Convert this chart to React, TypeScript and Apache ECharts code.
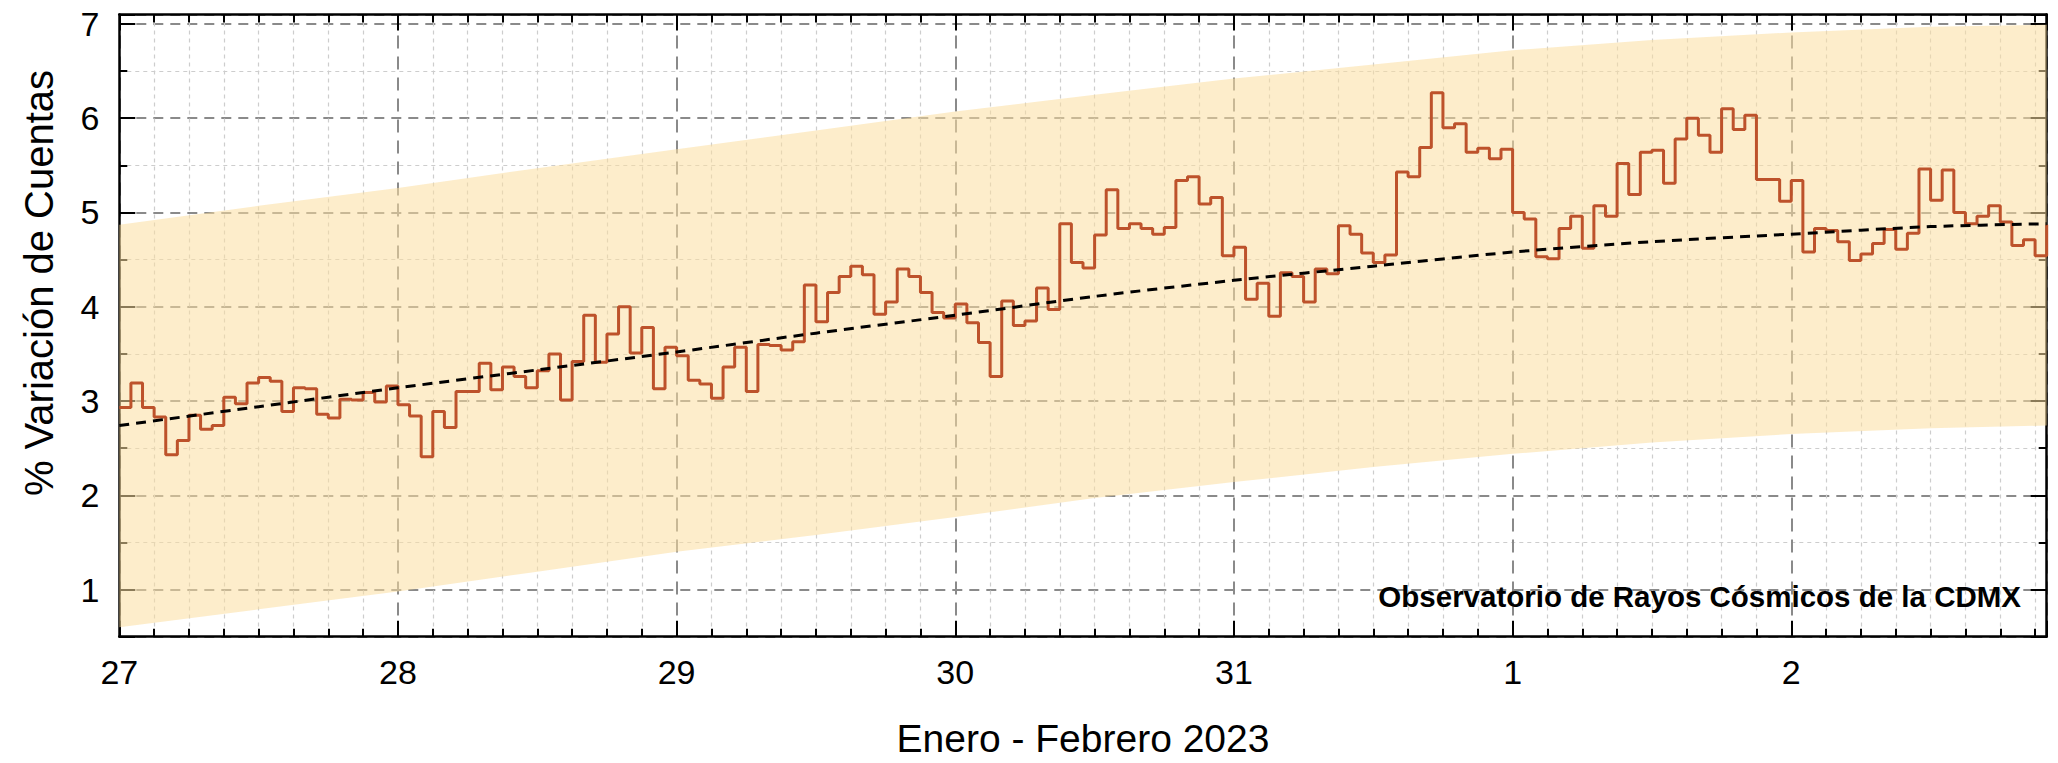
import React, { useEffect, useRef } from 'react';
import * as echarts from 'echarts';

// Tick labels for the day axis (one per day, starting 27 Jan 2023 00:00)
const dayLabels = ['27', '28', '29', '30', '31', '1', '2'];

// Hourly % variation of counts (one value per hour)
const jan27 = [2.93, 3.19, 2.93, 2.83, 2.43, 2.58, 2.85, 2.70, 2.74, 3.04, 2.97, 3.19, 3.25, 3.21, 2.89, 3.14, 3.13, 2.86, 2.82, 3.02, 3.01, 3.09, 2.99, 3.16];
const jan28 = [2.96, 2.84, 2.41, 2.89, 2.72, 3.10, 3.10, 3.40, 3.12, 3.36, 3.26, 3.14, 3.32, 3.50, 3.01, 3.42, 3.91, 3.41, 3.71, 4.00, 3.51, 3.78, 3.13, 3.57];
const jan29 = [3.48, 3.22, 3.18, 3.03, 3.36, 3.57, 3.10, 3.60, 3.59, 3.54, 3.63, 4.23, 3.84, 4.15, 4.32, 4.43, 4.34, 3.92, 4.05, 4.40, 4.32, 4.15, 3.94, 3.88];
const jan30 = [4.03, 3.83, 3.62, 3.26, 4.06, 3.80, 3.85, 4.20, 3.97, 4.88, 4.47, 4.41, 4.76, 5.24, 4.83, 4.88, 4.83, 4.77, 4.84, 5.34, 5.38, 5.09, 5.16, 4.54];
const jan31 = [4.63, 4.08, 4.25, 3.90, 4.36, 4.32, 4.05, 4.40, 4.35, 4.86, 4.77, 4.57, 4.47, 4.55, 5.43, 5.38, 5.69, 6.27, 5.90, 5.94, 5.64, 5.68, 5.57, 5.67];
const feb1 = [5.00, 4.93, 4.53, 4.51, 4.83, 4.96, 4.62, 5.07, 4.96, 5.52, 5.19, 5.64, 5.66, 5.31, 5.78, 6.00, 5.82, 5.64, 6.10, 5.88, 6.03, 5.35, 5.35, 5.12];
const feb2 = [5.34, 4.58, 4.83, 4.81, 4.69, 4.49, 4.56, 4.67, 4.82, 4.61, 4.78, 5.46, 5.13, 5.45, 5.00, 4.88, 4.96, 5.07, 4.90, 4.65, 4.71, 4.54, 4.87];

// Trend line and its band (hours since 27 Jan 00:00)
const trendHours = [0, 12, 24, 36, 48, 60, 72, 84, 96, 108, 120, 132, 144, 156, 166];
const trendValues = [2.74, 2.94, 3.14, 3.33, 3.52, 3.72, 3.91, 4.11, 4.28, 4.43, 4.58, 4.69, 4.77, 4.85, 4.88];
const bandUpper = [4.87, 5.07, 5.26, 5.47, 5.67, 5.87, 6.07, 6.25, 6.42, 6.57, 6.72, 6.83, 6.91, 6.97, 6.99];
const bandLower = [0.60, 0.79, 0.98, 1.19, 1.40, 1.58, 1.77, 1.97, 2.14, 2.30, 2.44, 2.56, 2.65, 2.71, 2.74];

const xTitle = 'Enero - Febrero 2023';
const yTitle = '% Variación de Cuentas';
const credit = 'Observatorio de Rayos Cósmicos de la CDMX';

const FONT = '"Liberation Sans", Arial, Helvetica, sans-serif';

export default function App() {
  const ref = useRef<HTMLDivElement>(null);

  useEffect(() => {
    document.body.style.margin = '0';
    const chart = echarts.init(ref.current as HTMLDivElement, null, { renderer: 'svg' });

    const hourly = [...jan27, ...jan28, ...jan29, ...jan30, ...jan31, ...feb1, ...feb2];
    const stepData = hourly.map((v, i) => [i, v]);
    const xMax = hourly.length - 1;

    const tickStyle = { color: '#000', width: 2 };

    const bandData = trendHours.map((h, i) => [h, bandLower[i], bandUpper[i]]);

    const option: any = {
      animation: false,
      grid: {
        left: 119.3,
        right: 11.3,
        top: 14.5,
        bottom: 126.3,
        containLabel: false,
        outerBoundsMode: 'none',
      },
      xAxis: [
        {
          type: 'value',
          min: 0,
          max: xMax,
          interval: 24,
          axisLine: { show: true, onZero: false, lineStyle: { color: '#000', width: 2.5 } },
          axisTick: { show: true, inside: true, length: 16, lineStyle: tickStyle },
          minorTick: { show: true, splitNumber: 8, length: 8, lineStyle: tickStyle },
          splitLine: { show: true, lineStyle: { color: '#8a8a8a', width: 2, type: [13, 8] } },
          minorSplitLine: { show: true, lineStyle: { color: '#cdcdcd', width: 1.2, type: [4, 4] } },
          axisLabel: {
            show: true,
            margin: 18,
            fontSize: 34,
            color: '#000',
            fontFamily: FONT,
            showMaxLabel: false,
            formatter: (v: number) => dayLabels[Math.round(v / 24)] ?? '',
          },
        },
        {
          type: 'value',
          position: 'top',
          min: 0,
          max: xMax,
          interval: 24,
          axisLine: { show: true, onZero: false, lineStyle: { color: '#000', width: 2.5 } },
          axisTick: { show: true, inside: true, length: 16, lineStyle: tickStyle },
          minorTick: { show: true, splitNumber: 8, length: 8, lineStyle: tickStyle },
          splitLine: { show: false },
          axisLabel: { show: false },
        },
      ],
      yAxis: [
        {
          type: 'value',
          min: 0.5,
          max: 7.1,
          splitNumber: 6,
          minInterval: 1,
          maxInterval: 1,
          axisLine: { show: true, onZero: false, lineStyle: { color: '#000', width: 2.5 } },
          axisTick: { show: true, inside: true, length: 16, lineStyle: tickStyle },
          minorTick: { show: true, splitNumber: 2, length: 8, lineStyle: tickStyle },
          splitLine: { show: true, lineStyle: { color: '#8a8a8a', width: 2, type: [10, 7] } },
          minorSplitLine: { show: true, lineStyle: { color: '#cdcdcd', width: 1.2, type: [4, 4] } },
          axisLabel: {
            show: true,
            margin: 20,
            fontSize: 34,
            color: '#000',
            fontFamily: FONT,
            showMinLabel: false,
            showMaxLabel: false,
            formatter: (v: number) => (Number.isInteger(v) ? String(v) : ''),
          },
        },
        {
          type: 'value',
          position: 'right',
          min: 0.5,
          max: 7.1,
          splitNumber: 6,
          minInterval: 1,
          maxInterval: 1,
          axisLine: { show: true, onZero: false, lineStyle: { color: '#000', width: 2.5 } },
          axisTick: { show: true, inside: true, length: 16, lineStyle: tickStyle },
          minorTick: { show: true, splitNumber: 2, length: 8, lineStyle: tickStyle },
          splitLine: { show: false },
          axisLabel: { show: false },
        },
      ],
      series: [
        {
          name: 'banda',
          type: 'custom',
          data: bandData,
          encode: { x: 0, y: [1, 2] },
          silent: true,
          clip: true,
          z: 1,
          renderItem: (params: any, api: any) => {
            if (params.dataIndex !== 0) return null;
            const upper = bandData.map((d) => api.coord([d[0], d[2]]));
            const lower = bandData.map((d) => api.coord([d[0], d[1]])).reverse();
            return {
              type: 'polygon',
              shape: { points: [...upper, ...lower] },
              style: { fill: 'rgba(252,222,160,0.55)', stroke: 'none' },
            };
          },
        },
        {
          name: 'variacion',
          type: 'line',
          step: 'end',
          data: stepData,
          symbol: 'none',
          lineStyle: { color: '#BD522B', width: 3 },
          z: 3,
        },
        {
          name: 'tendencia',
          type: 'line',
          data: trendHours.map((h, i) => [h, trendValues[i]]),
          symbol: 'none',
          smooth: 0.3,
          lineStyle: { color: '#000', width: 3, type: [10, 7] },
          z: 4,
        },
      ],
      graphic: [
        {
          type: 'text',
          x: 39,
          y: 283,
          rotation: Math.PI / 2,
          style: {
            text: yTitle,
            fill: '#000',
            font: `40px ${FONT}`,
            align: 'center',
            verticalAlign: 'middle',
          },
        },
        {
          type: 'text',
          x: 1083,
          y: 738,
          style: {
            text: xTitle,
            fill: '#000',
            font: `39px ${FONT}`,
            align: 'center',
            verticalAlign: 'middle',
          },
        },
        {
          type: 'text',
          x: 2021,
          y: 596,
          z: 10,
          style: {
            text: credit,
            fill: '#000',
            font: `bold 29.5px ${FONT}`,
            align: 'right',
            verticalAlign: 'middle',
          },
        },
      ],
    };

    chart.setOption(option);
    return () => chart.dispose();
  }, []);

  return <div ref={ref} style={{ width: 2058, height: 763 }} />;
}
